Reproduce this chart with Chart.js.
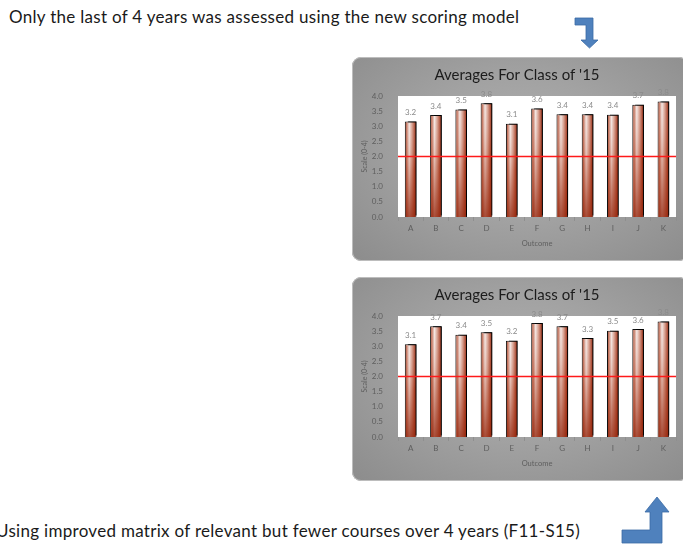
<!DOCTYPE html>
<html>
<head>
<meta charset="utf-8">
<script src="https://cdn.jsdelivr.net/npm/chart.js@4.4.1/dist/chart.umd.min.js"></script>
<style>
  html, body { margin: 0; padding: 0; background: #fff; }
  body { width: 683px; height: 544px; position: relative; overflow: hidden; font-family: Lato, "Open Sans", sans-serif; }
  .note { position: absolute; font-size: 17px; line-height: 20px; letter-spacing: 0.3px; color: #1a1a1a; white-space: nowrap; }
  .panel {
    position: absolute; left: 352px; width: 336px; height: 204px; border-radius: 9px;
    background: radial-gradient(ellipse at 50% 45%, #b0b0b0 0%, #a2a2a2 45%, #8c8c8c 100%);
    box-shadow: inset 0 0 0 1px #bdbdbd;
  }
  .panel canvas { position: absolute; left: 0; top: 0; }
  svg.arrows { position: absolute; left: 0; top: 0; }
</style>
</head>
<body>
<div class="note" style="left:9px; top:7px;">Only the last of 4 years was assessed using the new scoring model</div>
<div class="note" style="left:-4px; top:521px;">Using improved matrix of relevant but fewer courses over 4 years (F11-S15)</div>

<div class="panel" style="top:57px;"><canvas id="chartTop" width="336" height="204"></canvas></div>
<div class="panel" style="top:277px;"><canvas id="chartBottom" width="336" height="204"></canvas></div>

<svg class="arrows" width="683" height="544">
  <polygon points="575,18 593,18 593,40 598,40 589.5,48 581,40 586,40 586,25 575,25" fill="#4f81bd" stroke="#3a6ba5" stroke-width="0.8"/>
  <polygon points="622,530 650,530 650,512 645,512 657,497 669,512 662,512 662,543 622,543" fill="#4f81bd" stroke="#3a6ba5" stroke-width="0.8"/>
</svg>

<script>
// Outcomes and averages (0-4 scale)
const outcomes = ['A', 'B', 'C', 'D', 'E', 'F', 'G', 'H', 'I', 'J', 'K'];
const lastYearScores = [3.16, 3.37, 3.55, 3.76, 3.08, 3.59, 3.40, 3.40, 3.38, 3.71, 3.82];
const matrixScores = [3.07, 3.66, 3.38, 3.46, 3.18, 3.77, 3.66, 3.27, 3.51, 3.57, 3.82];
const yMin = 0;
const yMax = 4;
const yStep = 0.5;
const passLine = 2.0;
const chartTitle = "Averages For Class of '15";

const BAR_PCT = 0.46;
const textFont = 'Lato, "Open Sans", sans-serif';

// Horizontal "cylinder" gradient for each bar
function barGradient(context) {
    const chart = context.chart;
    const xs = chart.scales.x;
    if (!xs || !chart.chartArea || context.dataIndex === undefined) return '#a83c22';
    const cx = xs.getPixelForValue(context.dataIndex);
    const half = xs.width / outcomes.length * BAR_PCT / 2;
    const g = chart.ctx.createLinearGradient(cx - half, 0, cx + half, 0);
    g.addColorStop(0, '#a03a1c');
    g.addColorStop(0.15, '#c06a52');
    g.addColorStop(0.38, '#f4e6e2');
    g.addColorStop(0.62, '#d49886');
    g.addColorStop(0.88, '#a0341a');
    g.addColorStop(1, '#74200c');
    return g;
}

// White plot area
const plotBackground = {
    id: 'plotBackground',
    beforeDraw(chart) {
        const { ctx, chartArea: a } = chart;
        ctx.save();
        ctx.fillStyle = '#ffffff';
        ctx.fillRect(a.left, a.top, a.width, a.height);
        ctx.restore();
    }
};

// Black offset shadow on the bars
const barShadow = {
    id: 'barShadow',
    beforeDatasetDraw(chart) {
        const ctx = chart.ctx;
        ctx.save();
        ctx.shadowColor = '#000';
        ctx.shadowOffsetX = 3;
        ctx.shadowOffsetY = -1.5;
        ctx.shadowBlur = 0;
    },
    afterDatasetDraw(chart) {
        chart.ctx.restore();
    }
};

// Darker toward the base, value labels, red line at 2.0
const barExtras = {
    id: 'barExtras',
    afterDatasetsDraw(chart) {
        const ctx = chart.ctx;
        const meta = chart.getDatasetMeta(0);
        const values = chart.data.datasets[0].data;
        ctx.save();
        meta.data.forEach((bar, i) => {
            const { x, y, base, width } = bar.getProps(['x', 'y', 'base', 'width'], true);
            const g = ctx.createLinearGradient(0, y, 0, base);
            g.addColorStop(0, 'rgba(255,255,255,0.1)');
            g.addColorStop(0.5, 'rgba(170,55,25,0.3)');
            g.addColorStop(1, 'rgba(150,40,15,0.8)');
            ctx.fillStyle = g;
            ctx.fillRect(x - width / 2 + 1, y + 1, width - 2, base - y - 1);

            ctx.fillStyle = '#8a8a8a';
            ctx.font = '8px ' + textFont;
            ctx.textAlign = 'center';
            ctx.textBaseline = 'bottom';
            ctx.fillText(values[i].toFixed(1), x, y - 5);
        });
        const ly = chart.scales.y.getPixelForValue(passLine);
        ctx.strokeStyle = '#ff1a1a';
        ctx.lineWidth = 1.5;
        ctx.beginPath();
        ctx.moveTo(chart.chartArea.left, ly);
        ctx.lineTo(chart.chartArea.right, ly);
        ctx.stroke();
        ctx.restore();
    }
};

function makeChart(canvasId, values) {
    const ctx = document.getElementById(canvasId).getContext('2d');
    return new Chart(ctx, {
        type: 'bar',
        data: {
            labels: outcomes,
            datasets: [{
                data: values,
                backgroundColor: barGradient,
                borderColor: '#111',
                borderWidth: 1,
                barPercentage: BAR_PCT,
                categoryPercentage: 1
            }]
        },
        options: {
            responsive: false,
            animation: false,
            devicePixelRatio: 1,
            layout: { padding: { left: 6, right: 12, top: 0, bottom: 0 } },
            plugins: {
                legend: { display: false },
                tooltip: { enabled: false },
                title: {
                    display: true,
                    text: chartTitle,
                    color: '#1c1c1c',
                    font: { family: textFont, size: 15, weight: 'normal' },
                    padding: { top: 9, bottom: 12 }
                }
            },
            scales: {
                x: {
                    grid: { display: true, drawOnChartArea: false, offset: true, tickLength: 4, color: '#8f8f8f' },
                    border: { display: false },
                    ticks: { color: '#5e5e5e', font: { family: textFont, size: 8 }, padding: 3 },
                    title: { display: true, text: 'Outcome', color: '#5e5e5e', font: { family: textFont, size: 7.5 }, padding: { top: 0, bottom: 12.5 } },
                    afterFit(scale) { scale.height = 44; }
                },
                y: {
                    min: yMin,
                    max: yMax,
                    grid: { display: false },
                    border: { display: false },
                    ticks: { stepSize: yStep, color: '#5e5e5e', font: { family: textFont, size: 8 }, padding: 7, callback: v => v.toFixed(1) },
                    title: { display: true, text: 'Scale (0-4)', color: '#5e5e5e', font: { family: textFont, size: 7 }, padding: { top: 3, bottom: 0 } },
                    afterFit(scale) { scale.width = 40; }
                }
            }
        },
        plugins: [plotBackground, barShadow, barExtras]
    });
}

makeChart('chartTop', lastYearScores);
makeChart('chartBottom', matrixScores);
</script>
</body>
</html>
